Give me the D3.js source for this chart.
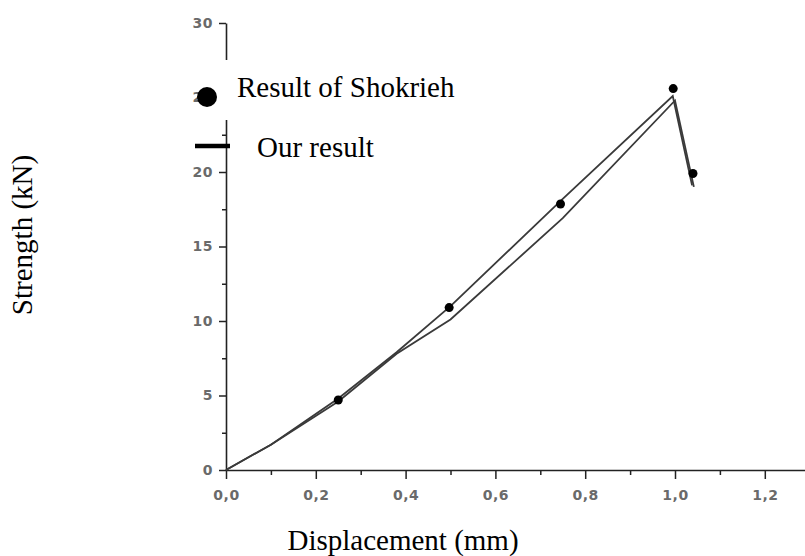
<!DOCTYPE html>
<html>
<head>
<meta charset="utf-8">
<script src="https://cdn.jsdelivr.net/npm/d3@7"></script>
<style>
  body { margin: 0; background: #fff; }
  svg { display: block; }
  .title { font-family: "Times New Roman", "Liberation Serif", serif; font-size: 29px; fill: #000; }
</style>
</head>
<body>
<svg id="chart"></svg>
<script>
// displacement (mm) and strength (kN)
const dispUpper = [0, 0.1, 0.25, 0.38, 0.5, 0.75, 0.995, 1.038];
const strengthUpper = [0, 1.7, 4.8, 7.9, 11.0, 18.2, 25.1, 19.1];
const dispLower = [0, 0.1, 0.25, 0.38, 0.5, 0.75, 1.0, 1.042];
const strengthLower = [0, 1.7, 4.6, 7.8, 10.1, 16.9, 24.8, 19.0];

const shokriehDisp = [0.25, 0.497, 0.745, 0.996, 1.04];
const shokriehStrength = [4.7, 10.9, 17.85, 25.6, 19.9];

const xTicks = [0, 0.2, 0.4, 0.6, 0.8, 1.0, 1.2];
const xMinor = [0.1, 0.3, 0.5, 0.7, 0.9, 1.1, 1.3];
const yTicks = [0, 5, 10, 15, 20, 25, 30];
const yMinor = [2.5, 7.5, 12.5, 17.5, 22.5, 27.5];

const width = 805, height = 556;

let svg = d3.select("#chart")
    .attr("width", width)
    .attr("height", height);

const x = d3.scaleLinear().domain([0, 1.3]).range([226, 226 + 1.3 * 449]);
const y = d3.scaleLinear().domain([0, 30]).range([470, 23]);

const commaFmt = d => d3.format(".1f")(d).replace(".", ",");

// minor ticks first, the major axis drawn over them
svg.append("g")
    .attr("transform", `translate(0,${y(0)})`)
    .call(d3.axisBottom(x).tickValues(xMinor).tickSize(5).tickFormat(""))
    .call(g => g.select(".domain").remove())
    .call(g => g.selectAll("line").attr("stroke", "#222").attr("stroke-width", 1.5));

svg.append("g")
    .attr("transform", `translate(${x(0)},0)`)
    .call(d3.axisLeft(y).tickValues(yMinor).tickSize(4).tickFormat(""))
    .call(g => g.select(".domain").remove())
    .call(g => g.selectAll("line").attr("stroke", "#222").attr("stroke-width", 1.5));

let xAxis = svg.append("g")
    .attr("transform", `translate(0,${y(0)})`)
    .call(d3.axisBottom(x).tickValues(xTicks).tickSize(9).tickSizeOuter(0).tickPadding(11).tickFormat(commaFmt));

let yAxis = svg.append("g")
    .attr("transform", `translate(${x(0)},0)`)
    .call(d3.axisLeft(y).tickValues(yTicks).tickSize(7).tickSizeOuter(0).tickPadding(5));

[xAxis, yAxis].forEach(g => {
    g.select(".domain").attr("stroke", "#222").attr("stroke-width", 1.6);
    g.selectAll("line").attr("stroke", "#222").attr("stroke-width", 1.5);
    g.selectAll("text")
        .attr("fill", "#6a6a6a")
        .style("font-family", "'DejaVu Sans', sans-serif")
        .style("font-size", "14px")
        .style("font-weight", "bold")
        .style("letter-spacing", "0.5px");
});
yAxis.selectAll("text").attr("dx", "-1");

// the two curves
const line = d3.line()
    .x(d => x(d[0]))
    .y(d => y(d[1]));

const upper = dispUpper.map((d, i) => [d, strengthUpper[i]]);
const lower = dispLower.map((d, i) => [d, strengthLower[i]]);

[upper, lower].forEach(data => {
    svg.append("path")
        .attr("d", line(data))
        .attr("fill", "none")
        .attr("stroke", "#3a3a3a")
        .attr("stroke-width", 1.8);
});

svg.selectAll(".shokrieh")
    .data(shokriehDisp.map((d, i) => [d, shokriehStrength[i]]))
    .join("circle")
    .attr("class", "shokrieh")
    .attr("cx", d => x(d[0]))
    .attr("cy", d => y(d[1]))
    .attr("r", 4.5)
    .attr("fill", "#000");

// legend
svg.append("rect")
    .attr("x", 217).attr("y", 60)
    .attr("width", 250).attr("height", 60)
    .attr("fill", "#fff");

svg.append("circle")
    .attr("cx", 207).attr("cy", 97).attr("r", 10)
    .attr("fill", "#000");

svg.append("text")
    .attr("class", "title")
    .attr("x", 237).attr("y", 97)
    .text("Result of Shokrieh");

svg.append("line")
    .attr("x1", 195).attr("x2", 230)
    .attr("y1", 146).attr("y2", 146)
    .attr("stroke", "#000")
    .attr("stroke-width", 4.5);

svg.append("text")
    .attr("class", "title")
    .attr("x", 257).attr("y", 157)
    .text("Our result");

// axis titles
svg.append("text")
    .attr("class", "title")
    .attr("x", 403).attr("y", 550)
    .attr("text-anchor", "middle")
    .text("Displacement (mm)");

svg.append("text")
    .attr("class", "title")
    .attr("transform", "translate(32,235) rotate(-90)")
    .attr("text-anchor", "middle")
    .text("Strength (kN)");
</script>
</body>
</html>
